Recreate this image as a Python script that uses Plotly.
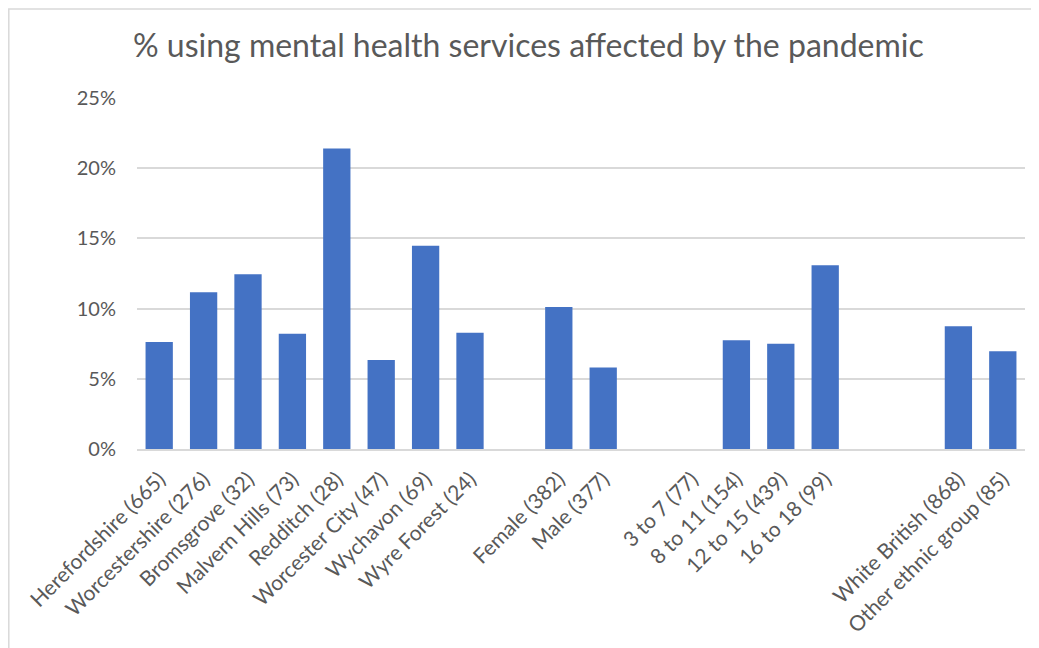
import plotly.graph_objects as go

categories = [
    "Herefordshire (665)", "Worcestershire (276)", "Bromsgrove (32)", "Malvern Hills (73)",
    "Redditch (28)", "Worcester City (47)", "Wychavon (69)", "Wyre Forest (24)",
    "",
    "Female (382)", "Male (377)",
    "",
    "3 to 7 (77)", "8 to 11 (154)", "12 to 15 (439)", "16 to 18 (99)",
    "", "",
    "White British (868)", "Other ethnic group (85)",
]
values = [
    0.0762, 0.1117, 0.1245, 0.0821, 0.2140, 0.0634, 0.1447, 0.0828,
    None,
    0.1012, 0.0580,
    None,
    0.0, 0.0775, 0.0749, 0.1309,
    None, None,
    0.0875, 0.0697,
]
y_ticks = [0, 0.05, 0.10, 0.15, 0.20, 0.25]
y_ticktext = ["0%", "5%", "10%", "15%", "20%", "25%"]
title_text = "% using mental health services affected by the pandemic"

positions = list(range(len(categories)))

# The page body has an 8px default margin; the figure is sized/offset to compensate.
OFF = 8
W, H = 1039 - OFF, 648 - OFF
plot_left, plot_right, plot_top, plot_bottom = 137 - OFF, 1025 - OFF, 98 - OFF, 449.5 - OFF
ml, mr, mt, mb = plot_left, W - plot_right, plot_top, H - plot_bottom

fig = go.Figure()
fig.add_trace(go.Bar(
    x=positions, y=values,
    marker=dict(color="#4472C4", line=dict(width=0)),
    width=0.615,
))

font_family = "Lato, 'Open Sans', sans-serif"
fig.update_layout(
    width=W, height=H,
    margin=dict(l=ml, r=mr, t=mt, b=mb, pad=0),
    paper_bgcolor="white", plot_bgcolor="white",
    showlegend=False,
    title=dict(text=title_text, x=(133 - OFF) / W, xanchor="left",
               y=1 - (46 - OFF) / H, yanchor="middle",
               font=dict(family=font_family, size=32, color="#595959")),
    font=dict(family=font_family, color="#595959"),
    bargap=0.385,
)
fig.update_xaxes(
    range=[-0.5, len(categories) - 0.5],
    tickmode="array", tickvals=positions, ticktext=categories,
    tickangle=-45, tickfont=dict(size=21, color="#595959"),
    showgrid=False, zeroline=False,
    showline=True, linecolor="#D9D9D9", linewidth=1.5,
    ticks="", ticklabelstandoff=8,
)
fig.update_yaxes(
    range=[0, 0.25],
    tickmode="array", tickvals=y_ticks, ticktext=y_ticktext,
    tickfont=dict(size=20, color="#595959"),
    showgrid=True, gridcolor="#D9D9D9", gridwidth=1.5,
    zeroline=False, showline=False, ticks="",
    ticklabelstandoff=20,
)

# outer chart border (only top and left edges visible in the reference)
pw = W - ml - mr
ph = H - mt - mb
def px_to_paper_x(px):
    return (px - OFF - ml) / pw
def px_to_paper_y(py):
    return (H - mb - (py - OFF)) / ph
fig.add_shape(type="rect", xref="paper", yref="paper",
              x0=px_to_paper_x(8.8), x1=px_to_paper_x(1060),
              y0=px_to_paper_y(670), y1=px_to_paper_y(8.8),
              line=dict(color="#D9D9D9", width=1.5), fillcolor="rgba(0,0,0,0)", layer="below")

fig.write_html("out.html")
